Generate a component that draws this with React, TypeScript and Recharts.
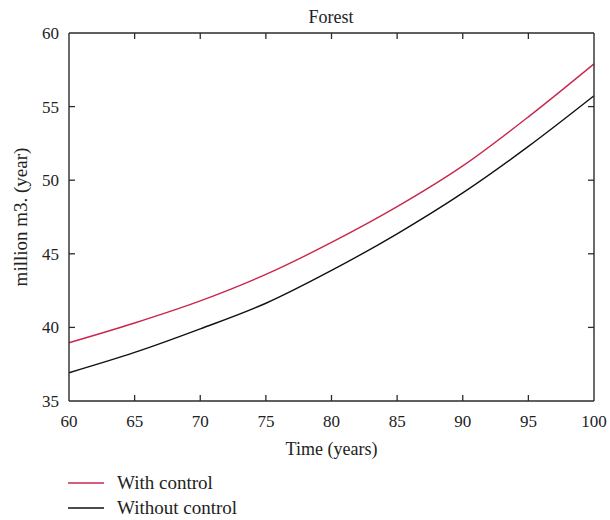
import React from "react";
import { LineChart, Line, XAxis, YAxis, Legend, ReferenceLine } from "recharts";

const years = [60, 65, 70, 75, 80, 85, 90, 95, 100];
const withControl = [38.96, 40.3, 41.8, 43.6, 45.77, 48.2, 50.97, 54.3, 57.9];
const withoutControl = [36.92, 38.3, 39.9, 41.64, 43.87, 46.36, 49.14, 52.3, 55.74];
const xTicks = [60, 65, 70, 75, 80, 85, 90, 95, 100];
const yTicks = [35, 40, 45, 50, 55, 60];
const xDomain = [60, 100];
const yDomain = [35, 60];

const data = years.map((t, i) => ({ t, withC: withControl[i], withoutC: withoutControl[i] }));

const FONT = "'Liberation Serif', 'Times New Roman', serif";
const AXIS = "#2b2b2b";
const RED = "#c8284e";
const BLACK = "#111111";
const TEXT = "#222";
const X_MARGIN = 14;
const Y_MARGIN = 10;

// plot size in px (for converting a 6px tick length into data units)
const PLOT_W = 525;
const PLOT_H = 368;
const TICK_PX = 6;
const xTickLen = (TICK_PX / PLOT_W) * (xDomain[1] - xDomain[0]);
const yTickLen = (TICK_PX / PLOT_H) * (yDomain[1] - yDomain[0]);

const legendItems = [
  { label: "With control", color: RED },
  { label: "Without control", color: BLACK },
];

const LegendContent = () => (
  <div style={{ fontFamily: FONT, fontSize: 19, color: TEXT }}>
    {legendItems.map((it) => (
      <div key={it.label} style={{ display: "flex", alignItems: "center", height: 25 }}>
        <svg width={36} height={4} style={{ marginRight: 13 }}>
          <line x1={0} y1={2} x2={36} y2={2} stroke={it.color} strokeWidth={1.4} />
        </svg>
        <span>{it.label}</span>
      </div>
    ))}
  </div>
);

const axisLineStyle = { stroke: AXIS, strokeWidth: 1.4 };

const renderBottomTick = (p: any) => (
  <text x={p.x} y={p.y} dy="0.71em" textAnchor="middle" style={{ fontFamily: FONT, fontSize: 17, fill: TEXT }}>
    {p.payload.value}
  </text>
);

const renderLeftTick = (p: any) => (
  <text x={p.x} y={p.y} dy="0.355em" textAnchor="end" style={{ fontFamily: FONT, fontSize: 17, fill: TEXT }}>
    {p.payload.value}
  </text>
);

const renderYLabel = (props: any) => {
  const vb = props.viewBox || { x: 29, y: 33, width: 40, height: 368 };
  const cx = vb.x - 9;
  const cy = vb.y + vb.height / 2;
  return (
    <text
      x={cx}
      y={cy}
      transform={`rotate(-90 ${cx} ${cy})`}
      textAnchor="middle"
      dominantBaseline="central"
      style={{ fontFamily: FONT, fontSize: 19, fill: TEXT }}
    >
      million m3. (year)
    </text>
  );
};

const innerX = xTicks.slice(1, -1);
const innerY = yTicks.slice(1, -1);

export default function App() {
  return (
    <div style={{ position: "absolute", left: 0, top: 0, width: 610, height: 520, background: "#fff" }}>
      <div
        style={{
          position: "absolute",
          left: 231,
          top: 6,
          width: 200,
          textAlign: "center",
          fontFamily: FONT,
          fontSize: 18,
          lineHeight: "22px",
          color: TEXT,
          zIndex: 2,
        }}
      >
        Forest
      </div>
      <LineChart
        width={610}
        height={520}
        data={data}
        margin={{ top: 32, right: 15, bottom: 89, left: 29 }}
      >
        <XAxis
          dataKey="t"
          type="number"
          domain={xDomain}
          ticks={xTicks}
          height={30}
          stroke={AXIS}
          tickSize={0}
          tickMargin={X_MARGIN}
          axisLine={axisLineStyle}
          tickLine={false}
          tick={renderBottomTick}
          label={{ value: "Time (years)", position: "bottom", offset: 11, style: { fontFamily: FONT, fontSize: 18, fill: TEXT } }}
        />
        <XAxis
          xAxisId="top"
          dataKey="t"
          orientation="top"
          type="number"
          domain={xDomain}
          ticks={xTicks}
          height={1}
          stroke={AXIS}
          tick={false}
          tickLine={false}
          axisLine={axisLineStyle}
        />
        <YAxis
          type="number"
          domain={yDomain}
          ticks={yTicks}
          width={40}
          stroke={AXIS}
          tickSize={0}
          tickMargin={Y_MARGIN}
          axisLine={axisLineStyle}
          tickLine={false}
          tick={renderLeftTick}
          label={{ value: "million m3. (year)", content: renderYLabel }}
        />
        <YAxis
          yAxisId="right"
          orientation="right"
          type="number"
          domain={yDomain}
          ticks={yTicks}
          width={1}
          stroke={AXIS}
          tick={false}
          tickLine={false}
          axisLine={axisLineStyle}
        />
        {innerX.map((v) => (
          <ReferenceLine
            key={`xb${v}`}
            segment={[{ x: v, y: yDomain[0] }, { x: v, y: yDomain[0] + yTickLen }]}
            stroke={AXIS}
            strokeWidth={1.3}
          />
        ))}
        {innerX.map((v) => (
          <ReferenceLine
            key={`xt${v}`}
            segment={[{ x: v, y: yDomain[1] }, { x: v, y: yDomain[1] - yTickLen }]}
            stroke={AXIS}
            strokeWidth={1.3}
          />
        ))}
        {innerY.map((v) => (
          <ReferenceLine
            key={`yl${v}`}
            segment={[{ x: xDomain[0], y: v }, { x: xDomain[0] + xTickLen, y: v }]}
            stroke={AXIS}
            strokeWidth={1.3}
          />
        ))}
        {innerY.map((v) => (
          <ReferenceLine
            key={`yr${v}`}
            segment={[{ x: xDomain[1], y: v }, { x: xDomain[1] - xTickLen, y: v }]}
            stroke={AXIS}
            strokeWidth={1.3}
          />
        ))}
        <Line
          type="monotone"
          dataKey="withC"
          name="With control"
          stroke={RED}
          strokeWidth={1.4}
          dot={false}
          isAnimationActive={false}
        />
        <Line
          type="monotone"
          dataKey="withoutC"
          name="Without control"
          stroke={BLACK}
          strokeWidth={1.4}
          dot={false}
          isAnimationActive={false}
        />
        <Legend
          layout="horizontal"
          verticalAlign="middle"
          align="center"
          content={() => <LegendContent />}
          wrapperStyle={{ position: "absolute", left: 68, top: 470, width: 250, height: 52 }}
        />
      </LineChart>
    </div>
  );
}
